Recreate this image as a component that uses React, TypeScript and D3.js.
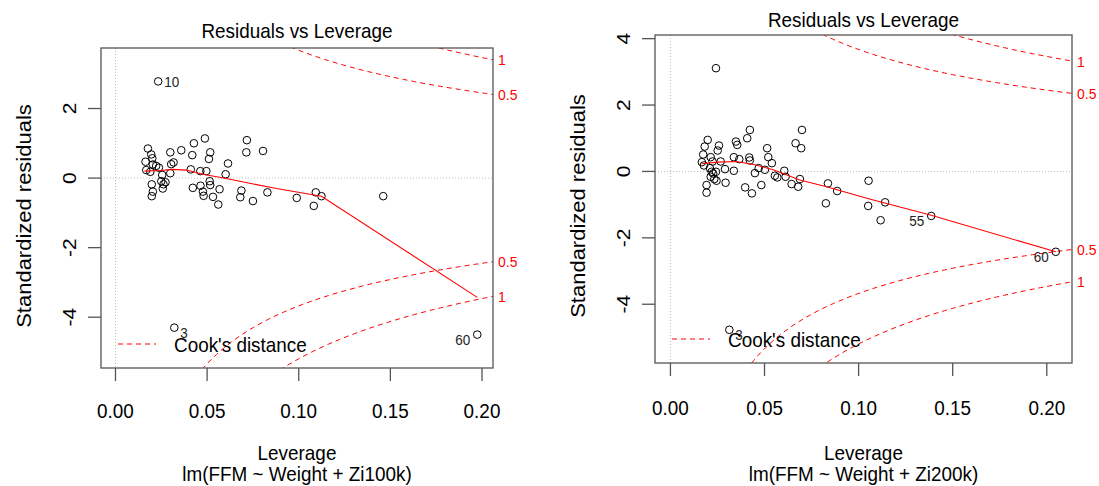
import React from 'react';
import * as d3 from 'd3';

const W = 1099;
const H = 486;

// lm(FFM ~ Weight + Zi100k): leverage and standardized residuals
const lev100 = [0.0177, 0.0195, 0.0201, 0.0164, 0.0204, 0.0168, 0.019, 0.0222, 0.0237, 0.0299, 0.0317, 0.0304, 0.0299, 0.0255, 0.0198, 0.0204, 0.0198, 0.025, 0.0262, 0.0258, 0.0273, 0.0359, 0.0428, 0.0419, 0.0488, 0.0517, 0.051, 0.0411, 0.0463, 0.0496, 0.0514, 0.0517, 0.0422, 0.0464, 0.0477, 0.0481, 0.0532, 0.0568, 0.0561, 0.0614, 0.0601, 0.0717, 0.0714, 0.0687, 0.0681, 0.075, 0.0805, 0.0829, 0.0989, 0.1082, 0.1093, 0.1124, 0.1461];
const res100 = [0.85, 0.68, 0.57, 0.47, 0.39, 0.23, 0.18, 0.35, 0.3, 0.74, 0.45, 0.4, 0.14, 0.09, -0.18, -0.39, -0.52, -0.09, -0.18, -0.3, -0.12, 0.8, 1.0, 0.66, 1.14, 0.74, 0.55, 0.25, 0.2, 0.2, -0.09, -0.2, -0.28, -0.22, -0.39, -0.51, -0.54, -0.32, -0.76, 0.42, 0.11, 1.09, 0.74, -0.36, -0.55, -0.66, 0.78, -0.41, -0.57, -0.8, -0.41, -0.52, -0.52];
const ids100 = ['10', '3', '60'];
const idLev100 = [0.0233, 0.0321, 0.1974];
const idRes100 = [2.78, -4.3, -4.5];
const smoothLev100 = [0.0158, 0.0245, 0.0313, 0.0386, 0.0477, 0.0605, 0.0732, 0.0878, 0.1124, 0.1974];
const smoothRes100 = [0.2, 0.22, 0.25, 0.23, 0.11, -0.01, -0.15, -0.3, -0.52, -3.43];

// lm(FFM ~ Weight + Zi200k)
const lev200 = [0.0242, 0.0198, 0.0182, 0.0174, 0.0258, 0.0251, 0.0214, 0.0167, 0.0178, 0.0224, 0.0267, 0.029, 0.0219, 0.0242, 0.0214, 0.0245, 0.0192, 0.0192, 0.0293, 0.0337, 0.0348, 0.0355, 0.0366, 0.0337, 0.0422, 0.0408, 0.0419, 0.0422, 0.0397, 0.0433, 0.0449, 0.0483, 0.0514, 0.052, 0.0539, 0.0502, 0.0555, 0.0605, 0.0568, 0.0612, 0.0644, 0.0665, 0.0695, 0.0699, 0.0679, 0.0688, 0.0837, 0.0886, 0.0826, 0.1053, 0.1051, 0.1141, 0.1117, 0.0227, 0.0469, 0.021, 0.0233];
const res200 = [3.11, 0.95, 0.75, 0.51, 0.78, 0.63, 0.43, 0.28, 0.18, 0.3, 0.3, 0.07, -0.01, -0.01, -0.16, -0.28, -0.41, -0.64, -0.34, 0.43, 0.9, 0.8, 0.37, 0.02, 1.25, 1.0, 0.42, 0.33, -0.48, -0.66, -0.05, -0.41, 0.7, 0.43, 0.25, 0.05, -0.13, 0.02, -0.18, -0.16, -0.38, 0.85, 0.7, 1.25, -0.46, -0.23, -0.36, -0.59, -0.96, -0.28, -1.04, -0.93, -1.47, -0.06, 0.1, 0.1, -0.23];
const ids200 = ['55', '60', '3'];
const idLev200 = [0.1386, 0.2048, 0.0313];
const idRes200 = [-1.34, -2.42, -4.77];
const smoothLev200 = [0.0166, 0.025, 0.035, 0.045, 0.0546, 0.0688, 0.083, 0.1053, 0.1386, 0.2048];
const smoothRes200 = [0.23, 0.28, 0.3, 0.2, 0.05, -0.26, -0.46, -0.82, -1.32, -2.42];

const xTicks = [0, 0.05, 0.1, 0.15, 0.2];
const yTicks100 = [2, 0, -2, -4];
const yTicks200 = [4, 2, 0, -2, -4];
const cookLevels = [0.5, 1];
const nParams = 3; // intercept + 2 predictors

const FONT = '"Liberation Sans", Arial, Helvetica, sans-serif';
const SX = 0.9; // text in the picture is a little narrow

function Txt({ x, y, size, anchor = 'start', fill = '#000', rotate = false, children }: any) {
  const tf = rotate
    ? `translate(${x},${y}) rotate(-90) scale(1,${SX})`
    : `translate(${x},${y}) scale(${SX},1)`;
  return (
    <text transform={tf} fontSize={size} textAnchor={anchor} fill={fill} fontFamily={FONT}>
      {children}
    </text>
  );
}

function Panel({ p }: any) {
  const x = d3.scaleLinear().domain(p.xDom).range([p.x0, p.x1]);
  const y = d3.scaleLinear().domain(p.yDom).range([p.y1, p.y0]);
  const clipId = `clip-${p.key}`;

  const line = d3.line<[number, number]>().x(d => x(d[0])).y(d => y(d[1]));
  const smooth: [number, number][] = p.sLev.map((v: number, i: number) => [v, p.sRes[i]]);

  // Cook's distance contours, as plot.lm draws them
  const hMax = p.xDom[1];
  const hh = d3.range(101).map(i => 0.002 + (i / 100) * (hMax - 0.002));
  const cook = (lvl: number, h: number) => Math.sqrt((lvl * nParams * (1 - h)) / h);

  const midX = (p.xDom[0] + p.xDom[1]) / 2;
  const cx = (p.x0 + p.x1) / 2;

  return (
    <g>
      <defs>
        <clipPath id={clipId}>
          <rect x={p.x0} y={p.y0} width={p.x1 - p.x0} height={p.y1 - p.y0} />
        </clipPath>
      </defs>
      <g clipPath={`url(#${clipId})`}>
        <line x1={x(0)} x2={x(0)} y1={p.y0} y2={p.y1} stroke="#bdbdbd" strokeDasharray="1,2" />
        <line x1={p.x0} x2={p.x1} y1={y(0)} y2={y(0)} stroke="#bdbdbd" strokeDasharray="1,2" />
        {cookLevels.map(lvl =>
          [1, -1].map(s => (
            <path
              key={`${lvl}${s}`}
              d={line(hh.map(h => [h, s * cook(lvl, h)] as [number, number])) || ''}
              fill="none"
              stroke="#ff0000"
              strokeDasharray="5,4"
            />
          ))
        )}
        {p.lev.map((v: number, i: number) => (
          <circle key={i} cx={x(v)} cy={y(p.res[i])} r={3.8} fill="none" stroke="#000" strokeWidth={1} />
        ))}
        {p.idLev.map((v: number, i: number) => (
          <circle key={`id${i}`} cx={x(v)} cy={y(p.idRes[i])} r={3.8} fill="none" stroke="#000" strokeWidth={1} />
        ))}
        <path d={line(smooth) || ''} fill="none" stroke="#ff0000" strokeWidth={1.1} />
      </g>

      {/* point labels */}
      {p.ids.map((id: string, i: number) => {
        const lx = x(p.idLev[i]);
        const ly = y(p.idRes[i]) + 5.5 + (p.idRes[i] < 0 ? 5 : 0);
        const left = p.idLev[i] > midX;
        return (
          <Txt key={id} x={left ? lx - 7 : lx + 6} y={ly} size={15} anchor={left ? 'end' : 'start'} fill="#222">
            {id}
          </Txt>
        );
      })}

      {/* Cook's distance labels on the right */}
      {cookLevels.map(lvl =>
        [1, -1].map(s => (
          <Txt key={`cl${lvl}${s}`} x={p.x1 + 5} y={y(s * cook(lvl, hMax)) + 5.5} size={15.5} fill="#ff0000">
            {String(lvl)}
          </Txt>
        ))
      )}

      {/* legend */}
      <line x1={p.x0 + 17} x2={p.x0 + 55} y1={p.legendY} y2={p.legendY} stroke="#ff0000" strokeDasharray="5,4" />
      <Txt x={p.x0 + 73} y={p.legendY + 7.5} size={21}>Cook's distance</Txt>

      {/* box and axes */}
      <rect x={p.x0} y={p.y0} width={p.x1 - p.x0} height={p.y1 - p.y0} fill="none" stroke="#555" strokeWidth={1.3} />
      {xTicks.map(t => (
        <g key={`xt${t}`}>
          <line x1={x(t)} x2={x(t)} y1={p.y1} y2={p.y1 + 13} stroke="#555" strokeWidth={1.3} />
          <Txt x={x(t)} y={p.tickLabY} size={21} anchor="middle">{t.toFixed(2)}</Txt>
        </g>
      ))}
      {p.yTicks.map((t: number) => (
        <g key={`yt${t}`}>
          <line x1={p.x0 - 13} x2={p.x0} y1={y(t)} y2={y(t)} stroke="#555" strokeWidth={1.3} />
          <Txt x={p.x0 - 25} y={y(t)} size={21} anchor="middle" rotate>{String(t)}</Txt>
        </g>
      ))}

      <Txt x={cx} y={p.titleY} size={21} anchor="middle">Residuals vs Leverage</Txt>
      <Txt x={p.x0 - 70} y={p.yLabCY} size={22} anchor="middle" rotate>Standardized residuals</Txt>
      <Txt x={cx} y={460} size={21} anchor="middle">Leverage</Txt>
      <Txt x={cx} y={481} size={21} anchor="middle">{p.sub}</Txt>
    </g>
  );
}

const panels = [
  {
    key: 'a', x0: 101, x1: 493, y0: 48, y1: 368,
    xDom: [-0.0079, 0.206], yDom: [-5.46, 3.74],
    titleY: 38, tickLabY: 417.5, yLabCY: 216, legendY: 344,
    lev: lev100, res: res100, ids: ids100, idLev: idLev100, idRes: idRes100,
    sLev: smoothLev100, sRes: smoothRes100, yTicks: yTicks100,
    sub: 'lm(FFM ~ Weight + Zi100k)',
  },
  {
    key: 'b', x0: 655, x1: 1072, y0: 35, y1: 363,
    xDom: [-0.0082, 0.2134], yDom: [-5.77, 4.11],
    titleY: 26.5, tickLabY: 414.5, yLabCY: 206, legendY: 339,
    lev: lev200, res: res200, ids: ids200, idLev: idLev200, idRes: idRes200,
    sLev: smoothLev200, sRes: smoothRes200, yTicks: yTicks200,
    sub: 'lm(FFM ~ Weight + Zi200k)',
  },
];

export default function App() {
  return (
    <svg
      width={W}
      height={H}
      style={{ position: 'absolute', left: 0, top: 0, background: '#fff' }}
    >
      <rect width={W} height={H} fill="#fff" />
      {panels.map(p => (
        <Panel key={p.key} p={p} />
      ))}
    </svg>
  );
}
